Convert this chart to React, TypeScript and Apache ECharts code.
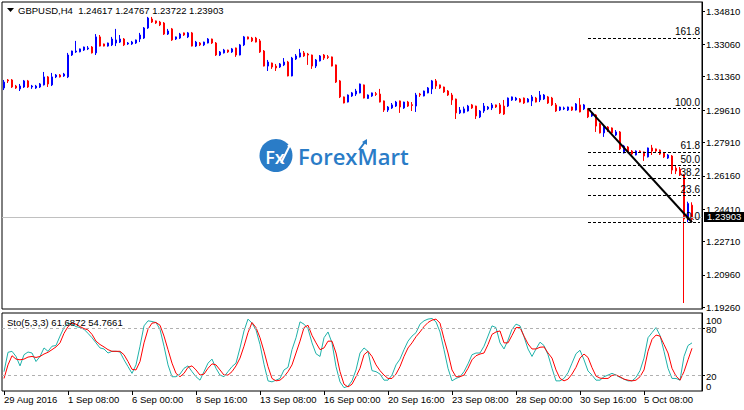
import React, { useEffect, useRef } from 'react';
import * as echarts from 'echarts';

const FONT = '"Liberation Sans", Arial, sans-serif';

const symbolTitle = 'GBPUSD,H4';
const lastOpen = 1.24617;
const lastHigh = 1.24767;
const lastLow = 1.23722;
const lastClose = 1.23903;

const stochTitle = 'Sto(5,3,3)';
const stochKLast = 61.6872;
const stochDLast = 54.7661;

const xTickLabels = ['29 Aug 2016', '1 Sep 08:00', '6 Sep 00:00', '8 Sep 16:00', '13 Sep 08:00', '16 Sep 00:00', '20 Sep 16:00', '23 Sep 08:00', '28 Sep 00:00', '30 Sep 16:00', '5 Oct 08:00'];
const barsPerTick = 16;
const slotCount = 175;

const priceTicks = [1.3481, 1.3306, 1.3136, 1.2961, 1.2791, 1.2616, 1.2441, 1.2271, 1.2096, 1.1926];
const priceMin = 1.19166;
const priceMax = 1.35283;
const stochLevels = [20, 80];
const stochBounds = [0, 100];

const opens = [1.3077,1.3119,1.3119,1.3087,1.3072,1.3082,1.3114,1.3082,1.3077,1.3082,1.3093,1.3135,1.3093,1.3135,1.3145,1.3140,1.3135,1.3250,1.3266,1.3267,1.3276,1.3282,1.3292,1.3261,1.3345,1.3308,1.3297,1.3303,1.3313,1.3318,1.3334,1.3308,1.3308,1.3313,1.3334,1.3339,1.3392,1.3439,1.3429,1.3423,1.3418,1.3360,1.3387,1.3334,1.3339,1.3366,1.3345,1.3366,1.3297,1.3313,1.3303,1.3313,1.3334,1.3313,1.3250,1.3261,1.3276,1.3266,1.3287,1.3250,1.3303,1.3345,1.3339,1.3339,1.3324,1.3271,1.3192,1.3208,1.3192,1.3187,1.3198,1.3213,1.3140,1.3229,1.3240,1.3261,1.3255,1.3250,1.3192,1.3219,1.3250,1.3241,1.3240,1.3198,1.3114,1.3030,1.3003,1.3035,1.3045,1.3051,1.3093,1.3022,1.3035,1.3047,1.3045,1.3009,1.2961,1.2972,1.2982,1.3009,1.2972,1.3003,1.2989,1.2982,1.3045,1.3035,1.3051,1.3072,1.3114,1.3093,1.3082,1.3061,1.3040,1.3019,1.2946,1.2947,1.2956,1.2988,1.2982,1.2925,1.2956,1.2967,1.2972,1.2988,1.2988,1.2982,1.2982,1.3014,1.3014,1.3019,1.3024,1.3003,1.3009,1.3024,1.3014,1.3019,1.3030,1.3024,1.2988,1.2961,1.2967,1.2961,1.2977,1.2961,1.2988,1.2967,1.2967,1.2930,1.2935,1.2888,1.2841,1.2872,1.2867,1.2830,1.2846,1.2736,1.2767,1.2746,1.2725,1.2746,1.2741,1.2715,1.2762,1.2757,1.2751,1.2736,1.2709,1.2720,1.2656,1.2651,1.2620,1.2385,1.24617];
const closes = [1.3108,1.3114,1.3082,1.3077,1.3087,1.3114,1.3082,1.3087,1.3087,1.3098,1.3135,1.3098,1.3135,1.3145,1.3135,1.3150,1.3250,1.3271,1.3271,1.3282,1.3292,1.3287,1.3261,1.3345,1.3297,1.3297,1.3313,1.3334,1.3329,1.3334,1.3303,1.3313,1.3318,1.3329,1.3355,1.3392,1.3444,1.3423,1.3418,1.3408,1.3360,1.3376,1.3329,1.3345,1.3360,1.3355,1.3366,1.3297,1.3318,1.3303,1.3318,1.3334,1.3313,1.3250,1.3266,1.3276,1.3266,1.3282,1.3250,1.3303,1.3345,1.3334,1.3324,1.3318,1.3266,1.3192,1.3213,1.3187,1.3182,1.3203,1.3213,1.3140,1.3234,1.3245,1.3261,1.3245,1.3250,1.3192,1.3224,1.3245,1.3234,1.3237,1.3192,1.3108,1.3030,1.2998,1.3040,1.3051,1.3061,1.3098,1.3024,1.3040,1.3051,1.3043,1.3003,1.2961,1.2977,1.2988,1.3003,1.2977,1.3003,1.2982,1.2985,1.3040,1.3040,1.3061,1.3077,1.3114,1.3087,1.3077,1.3056,1.3040,1.3014,1.2946,1.2961,1.2967,1.2982,1.2972,1.2930,1.2956,1.2982,1.2977,1.2988,1.2977,1.2946,1.2940,1.3024,1.3030,1.3024,1.3003,1.2998,1.3019,1.3030,1.3003,1.3040,1.3040,1.2998,1.2988,1.2956,1.2977,1.2972,1.2977,1.2961,1.2993,1.2951,1.2988,1.2925,1.2946,1.2877,1.2841,1.2872,1.2856,1.2841,1.2846,1.2757,1.2772,1.2741,1.2730,1.2746,1.2742,1.2720,1.2762,1.2746,1.2746,1.2730,1.2715,1.2725,1.2646,1.2641,1.2620,1.2389,1.2470,1.23903];
const lows = [1.3066,1.3103,1.3077,1.3072,1.3061,1.3077,1.3077,1.3072,1.3072,1.3077,1.3090,1.3082,1.3087,1.3129,1.3132,1.3135,1.3129,1.3245,1.3261,1.3264,1.3271,1.3276,1.3258,1.3250,1.3295,1.3295,1.3294,1.3297,1.3297,1.3313,1.3297,1.3303,1.3303,1.3308,1.3318,1.3334,1.3387,1.3418,1.3413,1.3402,1.3355,1.3355,1.3324,1.3329,1.3334,1.3350,1.3339,1.3295,1.3292,1.3297,1.3297,1.3311,1.3308,1.3245,1.3245,1.3258,1.3261,1.3261,1.3240,1.3248,1.3297,1.3332,1.3318,1.3316,1.3261,1.3190,1.3166,1.3177,1.3166,1.3182,1.3192,1.3138,1.3138,1.3224,1.3237,1.3240,1.3198,1.3177,1.3182,1.3216,1.3224,1.3229,1.3190,1.3103,1.3024,1.2996,1.3001,1.3030,1.3035,1.3049,1.3022,1.3019,1.3030,1.3035,1.3001,1.2951,1.2951,1.2967,1.2977,1.2946,1.2967,1.2977,1.2956,1.2951,1.3030,1.3033,1.3049,1.3045,1.3072,1.3072,1.3051,1.3035,1.2988,1.2914,1.2940,1.2944,1.2953,1.2967,1.2914,1.2919,1.2946,1.2961,1.2961,1.2972,1.2940,1.2935,1.2977,1.3009,1.3009,1.3001,1.2993,1.3001,1.2982,1.3001,1.3003,1.3014,1.2993,1.2982,1.2951,1.2956,1.2961,1.2956,1.2956,1.2958,1.2949,1.2961,1.2919,1.2925,1.2846,1.2838,1.2820,1.2846,1.2835,1.2825,1.2751,1.2733,1.2738,1.2725,1.2723,1.2736,1.2694,1.2712,1.2725,1.2741,1.2725,1.2709,1.2704,1.2625,1.2625,1.2615,1.1948,1.2372,1.23722];
const highs = [1.3119,1.3124,1.3124,1.3093,1.3098,1.3119,1.3119,1.3093,1.3093,1.3103,1.3161,1.3140,1.3156,1.3150,1.3150,1.3156,1.3261,1.3273,1.3324,1.3284,1.3294,1.3297,1.3297,1.3360,1.3355,1.3310,1.3315,1.3345,1.3387,1.3355,1.3339,1.3318,1.3324,1.3331,1.3366,1.3397,1.3450,1.3450,1.3431,1.3429,1.3423,1.3387,1.3392,1.3347,1.3366,1.3368,1.3371,1.3371,1.3324,1.3318,1.3320,1.3339,1.3336,1.3318,1.3271,1.3282,1.3278,1.3287,1.3289,1.3308,1.3350,1.3347,1.3345,1.3345,1.3334,1.3276,1.3224,1.3210,1.3203,1.3208,1.3234,1.3219,1.3240,1.3255,1.3282,1.3271,1.3261,1.3252,1.3229,1.3250,1.3255,1.3250,1.3242,1.3200,1.3119,1.3032,1.3043,1.3056,1.3072,1.3100,1.3095,1.3043,1.3053,1.3056,1.3072,1.3011,1.2982,1.2998,1.3009,1.3011,1.3005,1.3009,1.3003,1.3051,1.3051,1.3063,1.3082,1.3119,1.3124,1.3095,1.3084,1.3066,1.3051,1.3021,1.2977,1.2979,1.2988,1.2993,1.2984,1.2961,1.2998,1.2982,1.2998,1.2990,1.2998,1.3014,1.3027,1.3032,1.3030,1.3024,1.3027,1.3024,1.3040,1.3030,1.3061,1.3045,1.3035,1.3030,1.2998,1.2979,1.2979,1.2979,1.2979,1.2998,1.3024,1.2993,1.2970,1.2948,1.2940,1.2893,1.2877,1.2877,1.2870,1.2856,1.2851,1.2778,1.2772,1.2751,1.2749,1.2749,1.2743,1.2764,1.2778,1.2759,1.2754,1.2741,1.2730,1.2725,1.2667,1.2662,1.2625,1.2480,1.24767];

const stochK = [24.8,49.6,50.9,44.3,32.2,46.5,50.0,48.7,37.8,44.3,55.2,50.9,57.4,58.3,70.4,81.3,87.0,85.7,82.6,81.3,79.1,73.9,68.3,61.7,55.2,53.9,48.7,50.9,50.9,50.0,40.0,31.3,22.6,33.5,57.4,83.5,90.0,89.1,87.8,79.1,57.4,33.5,18.3,18.3,21.7,29.1,32.2,24.8,18.3,13.9,24.8,35.7,40.9,29.1,20.4,18.3,24.8,31.3,35.7,55.2,77.0,92.2,
  87.0,78.3,59.6,34.3,13.0,11.7,13.9,16.1,27.0,30.4,53.0,68.3,88.7,85.7,80.0,61.7,47.8,44.3,68.3,75.7,61.7,31.3,11.7,4.3,6.1,13.0,27.0,48.7,55.2,50.9,26.1,24.8,21.7,13.9,13.9,20.4,33.5,40.9,53.0,63.9,70.4,74.8,85.7,90.0,92.2,93.0,88.7,75.7,53.0,29.1,13.0,16.1,18.3,24.8,34.8,46.5,48.7,48.7,57.4,70.4,83.5,81.3,61.7,
  53.9,65.2,79.1,85.7,83.5,69.6,53.9,44.3,53.9,62.6,58.3,46.5,29.1,13.0,13.0,16.1,23.5,35.7,47.8,52.2,40.0,25.7,20.4,13.9,13.9,18.3,20.4,22.6,20.4,17.4,15.2,13.0,13.0,17.4,26.1,42.2,68.3,74.8,81.3,71.3,50.9,29.1,16.1,16.1,13.9,44.3,58.3,61.6872];
const stochD = [16.1,33.5,45.2,40.9,40.0,40.9,43.5,44.3,43.0,44.3,47.4,49.6,53.0,56.5,61.7,73.9,82.6,87.0,85.7,82.6,80.0,78.3,72.6,63.9,59.6,56.5,53.0,50.9,50.9,50.9,46.5,37.8,27.8,27.0,37.8,61.7,79.1,87.0,87.8,84.3,70.4,53.0,35.7,22.6,18.3,22.6,30.4,32.2,27.0,20.4,21.7,29.1,34.8,33.5,27.0,20.4,20.4,24.8,32.2,42.2,57.4,74.8,
  87.8,81.3,68.3,50.9,31.3,16.1,13.0,13.9,18.3,24.8,33.5,48.7,63.9,81.3,84.3,71.3,61.7,53.0,55.2,63.9,63.9,48.7,24.8,8.7,5.2,8.7,18.3,29.1,46.5,50.9,44.3,33.5,26.1,20.4,16.1,16.1,21.7,31.3,44.3,55.2,61.7,69.6,75.7,82.6,87.8,90.9,92.2,87.0,67.0,48.7,27.0,18.3,18.3,20.4,29.1,40.0,45.2,47.4,48.7,59.6,72.6,75.7,77.0,
  61.7,61.7,71.3,81.3,81.3,70.4,60.4,53.9,53.9,56.1,56.5,48.7,42.2,27.0,16.1,13.0,15.2,21.7,30.4,42.2,47.4,43.0,30.0,19.1,16.5,16.1,16.1,20.0,20.4,18.3,15.2,13.9,13.0,13.9,18.3,27.0,50.9,66.1,71.7,70.4,59.6,48.7,29.1,19.1,13.9,24.8,40.0,54.7661];

const fibStartBar = 146;
const fibEndBar = 172;
const fibHigh = 1.2970;
const fibLow = lastLow;
const fibRatios = [1.618, 1.0, 0.618, 0.5, 0.382, 0.236, 0.0];
const fibLabels = ['161.8', '100.0', '61.8', '50.0', '38.2', '23.6', '0.0'];

const BLUE = '#0000ff';
const RED = '#ff0000';
const LOGO_BLUE = '#2a7cc7';

export default function App() {
  const ref = useRef<HTMLDivElement>(null);
  useEffect(() => {
    if (!ref.current) return;
    const chart = echarts.init(ref.current, undefined, { renderer: 'svg' });
    const cats = Array.from({ length: slotCount }, (_, i) => String(i));
    const candleData = opens.map((o, i) => [o, closes[i], lows[i], highs[i]]);
    const tickShown = (i: number) => i % barsPerTick === 0 && i / barsPerTick < xTickLabels.length;
    const fibLines = fibRatios.map((r, k) => {
      const level = fibLow + (fibHigh - fibLow) * r;
      return [
        {
          coord: [fibStartBar, level],
          lineStyle: { color: '#000', type: [3, 2], width: 1 },
          label: { show: true, position: 'insideEndTop', formatter: fibLabels[k], color: '#000', fontSize: 10, fontFamily: FONT, distance: [0, 1] },
        },
        { coord: [slotCount - 1, level] },
      ];
    });
    const labelFont = { fontSize: 9.5, fontFamily: FONT, color: '#000' };
    const richFont = { ...labelFont, lineHeight: 9 };
    const option: any = {
      animation: false,
      backgroundColor: '#fff',
      textStyle: { fontFamily: FONT },
      grid: [
        { left: 2, right: 42, top: 2, height: 307, show: true, borderColor: '#000', borderWidth: 1 },
        { left: 2, right: 42, top: 313, height: 78, show: true, borderColor: '#000', borderWidth: 1 },
      ],
      xAxis: [
        { type: 'category', gridIndex: 0, data: cats, axisLine: { show: false }, axisTick: { show: false }, axisLabel: { show: false }, splitLine: { show: false } },
        {
          type: 'category', gridIndex: 1, data: cats,
          axisLine: { show: false },
          axisTick: { show: true, alignWithLabel: true, length: 4, interval: (i: number) => tickShown(i), lineStyle: { color: '#000' } },
          axisLabel: { show: true, interval: (i: number) => tickShown(i), formatter: (_v: string, i: number) => xTickLabels[i / barsPerTick] ?? '', align: 'left', margin: 3, ...labelFont },
          splitLine: { show: false },
        },
      ],
      yAxis: [
        {
          type: 'value', gridIndex: 0, position: 'right', min: priceMin, max: priceMax, scale: true,
          axisLine: { show: true, lineStyle: { color: '#000' } },
          axisTick: { show: true, length: 3, customValues: priceTicks, lineStyle: { color: '#000' } },
          axisLabel: { customValues: priceTicks, formatter: (v: number) => v.toFixed(5), margin: 4, ...labelFont, lineHeight: 9 },
          splitLine: { show: false },
        },
        {
          type: 'value', gridIndex: 1, position: 'right', min: 0, max: 100,
          axisLine: { show: true, lineStyle: { color: '#000' } },
          axisTick: { show: true, length: 3, customValues: stochLevels, lineStyle: { color: '#000' } },
          axisLabel: {
            customValues: stochLevels, margin: 4, ...labelFont,
            formatter: (v: number) => `{m|${v}}`,
            rich: { m: { padding: [2, 0, 0, 0], ...richFont } },
          },
          splitLine: { show: false },
        },
        {
          type: 'value', gridIndex: 1, position: 'right', min: 0, max: 100,
          axisLine: { show: false }, axisTick: { show: false },
          axisLabel: {
            customValues: stochBounds, margin: 4, ...labelFont, showMinLabel: true, showMaxLabel: true,
            formatter: (v: number) => (v === 100 ? `{t|${v}}` : `{b|${v}}`),
            rich: {
              t: { padding: [14, 0, 0, 0], ...richFont },
              b: { padding: [0, 0, 10, 0], ...richFont },
            },
          },
          splitLine: { show: false },
        },
      ],
      series: [
        {
          type: 'candlestick', xAxisIndex: 0, yAxisIndex: 0, data: candleData, barWidth: 2,
          itemStyle: { color: BLUE, color0: RED, borderColor: BLUE, borderColor0: RED, borderWidth: 1 },
          markLine: {
            silent: true, symbol: ['none', 'none'], animation: false,
            data: [
              {
                yAxis: lastClose,
                lineStyle: { color: '#c0c0c0', type: 'solid', width: 1 },
                label: { show: true, position: 'end', formatter: lastClose.toFixed(5), backgroundColor: '#000', color: '#fff', padding: [1, 3, 0, 3], lineHeight: 9, fontSize: 9.5, fontFamily: FONT, distance: 2 },
              },
              ...fibLines,
              [
                { coord: [fibStartBar, fibHigh], lineStyle: { color: '#000', type: 'solid', width: 2 }, label: { show: false } },
                { coord: [fibEndBar, fibLow] },
              ],
            ],
          },
        },
        {
          type: 'line', xAxisIndex: 1, yAxisIndex: 1, data: stochK, showSymbol: false, symbol: 'none',
          lineStyle: { color: '#20b2aa', width: 1 },
          markLine: {
            silent: true, symbol: ['none', 'none'], label: { show: false },
            lineStyle: { color: '#b0b0b0', type: [3, 3], width: 1 },
            data: stochLevels.map((l) => ({ yAxis: l })),
          },
          z: 3,
        },
        {
          type: 'line', xAxisIndex: 1, yAxisIndex: 1, data: stochD, showSymbol: false, symbol: 'none',
          lineStyle: { color: RED, width: 1 }, z: 4,
        },
      ],
      graphic: [
        { type: 'polygon', shape: { points: [[7, 8], [14, 8], [10.5, 12]] }, style: { fill: '#000' }, z: 20 },
        {
          type: 'text', x: 18, y: 10, z: 20,
          style: { text: `${symbolTitle}  ${lastOpen.toFixed(5)} ${lastHigh.toFixed(5)} ${lastLow.toFixed(5)} ${lastClose.toFixed(5)}`, fill: '#000', font: `9.5px ${FONT}`, verticalAlign: 'middle' },
        },
        {
          type: 'text', x: 7, y: 322, z: 20,
          style: { text: `${stochTitle} ${stochKLast.toFixed(4)} ${stochDLast.toFixed(4)}`, fill: '#000', font: `9.5px ${FONT}`, verticalAlign: 'middle' },
        },
        { type: 'circle', shape: { cx: 276, cy: 155.5, r: 16.5 }, style: { fill: LOGO_BLUE }, z: 5 },
        { type: 'text', x: 275, y: 157, z: 6, style: { text: 'Fx', fill: '#fff', font: `600 18px "Open Sans", sans-serif`, align: 'center', verticalAlign: 'middle' } },
        { type: 'line', shape: { x1: 281, y1: 163, x2: 290, y2: 145 }, style: { stroke: '#fff', lineWidth: 2 }, z: 7 },
        { type: 'polygon', shape: { points: [[287, 146], [292, 141], [292, 148]] }, style: { fill: '#fff' }, z: 7 },
        { type: 'text', x: 298, y: 156, z: 6, style: { text: 'ForexMart', fill: LOGO_BLUE, font: `600 22px "Open Sans", sans-serif`, verticalAlign: 'middle' } },
        { type: 'line', shape: { x1: 359, y1: 150, x2: 365, y2: 142 }, style: { stroke: LOGO_BLUE, lineWidth: 2 }, z: 7 },
        { type: 'polygon', shape: { points: [[362, 142], [367, 139], [367, 145]] }, style: { fill: LOGO_BLUE }, z: 7 },
      ],
    };
    chart.setOption(option);
    return () => chart.dispose();
  }, []);
  return <div ref={ref} style={{ position: 'fixed', left: 0, top: 0, width: 744, height: 410, background: '#fff' }} />;
}
